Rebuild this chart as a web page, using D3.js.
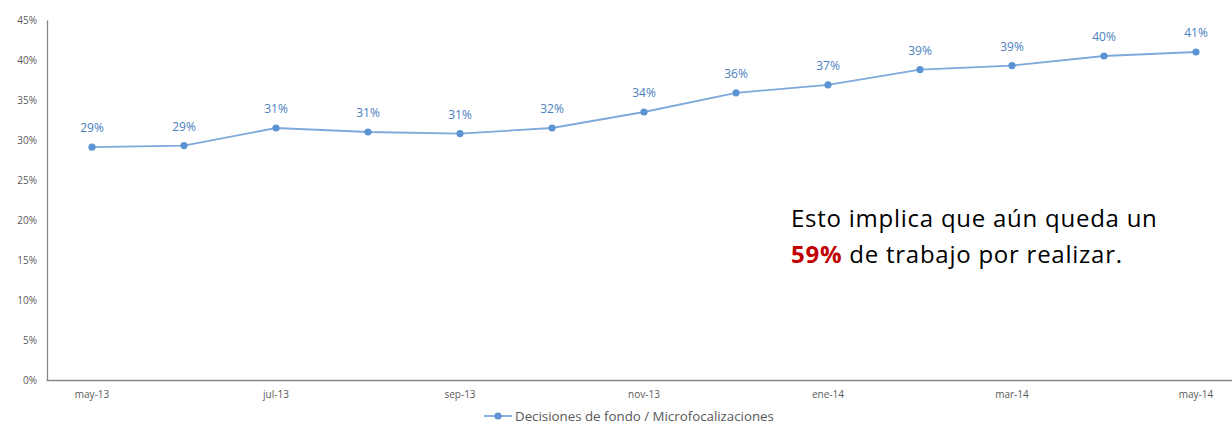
<!DOCTYPE html>
<html><head><meta charset="utf-8">
<script src="https://cdn.jsdelivr.net/npm/d3@7"></script>
<style>body{margin:0;background:#fff}svg{display:block}</style>
</head><body><svg id="c" width="1232" height="424"></svg>
<script>
const months = ["may-13","jun-13","jul-13","ago-13","sep-13","oct-13","nov-13","dic-13","ene-14","feb-14","mar-14","abr-14","may-14"];
const values = [0.291,0.293,0.315,0.310,0.308,0.315,0.335,0.359,0.369,0.388,0.393,0.405,0.410];
const valueLabels = ["29%","29%","31%","31%","31%","32%","34%","36%","37%","39%","39%","40%","41%"];
const xTickLabels = ["may-13","jul-13","sep-13","nov-13","ene-14","mar-14","may-14"];
const yTicks = [0,0.05,0.10,0.15,0.20,0.25,0.30,0.35,0.40,0.45];
const seriesName = "Decisiones de fondo / Microfocalizaciones";

const svg = d3.select("#c");
const mLeft = 47, mTop = 20, mBottom = 380;
const x = d3.scaleBand().domain(months).range([mLeft-1, mLeft-1+months.length*92]);
const y = d3.scaleLinear().domain([0,0.45]).range([mBottom, mTop]);
const cx = d => x(d) + x.bandwidth()/2;

// y axis
const ya = svg.append("g").attr("transform",`translate(${mLeft},0)`)
  .call(d3.axisLeft(y).tickValues(yTicks).tickFormat(d3.format(".0%")).tickSize(0).tickPadding(10));
ya.select(".domain").attr("stroke","#868686").attr("stroke-width",1.3);
ya.selectAll("text").attr("font-family","'Open Sans', sans-serif").attr("font-size",10).attr("fill","#595959");

// x axis
const xa = svg.append("g").attr("transform",`translate(0,${mBottom})`)
  .call(d3.axisBottom(x).tickValues(xTickLabels).tickSize(0).tickPadding(11));
xa.select(".domain").attr("stroke","#868686").attr("stroke-width",1.3);
xa.selectAll("text").attr("font-family","'Open Sans', sans-serif").attr("font-size",10).attr("fill","#595959");

const data = months.map((m,i)=>({m, v: values[i], l: valueLabels[i]}));
svg.append("path").datum(data)
  .attr("fill","none").attr("stroke","#7ea9db").attr("stroke-width",1.8)
  .attr("d", d3.line().x(d=>cx(d.m)).y(d=>y(d.v)));
svg.selectAll("circle.pt").data(data).join("circle").attr("class","pt")
  .attr("cx",d=>cx(d.m)).attr("cy",d=>y(d.v)).attr("r",3.6).attr("fill","#5b93d3");
svg.selectAll("text.lbl").data(data).join("text").attr("class","lbl")
  .attr("x",d=>cx(d.m)).attr("y",d=>y(d.v)-15).attr("text-anchor","middle")
  .attr("font-family","'Open Sans', sans-serif").attr("font-size",12).attr("fill","#4a80c0")
  .text(d=>d.l);

// legend
const lg = svg.append("g").attr("transform","translate(484,416)");
lg.append("line").attr("x1",0).attr("x2",28).attr("y1",0).attr("y2",0).attr("stroke","#7ea9db").attr("stroke-width",1.8);
lg.append("circle").attr("cx",14).attr("cy",0).attr("r",3.6).attr("fill","#5b93d3");
lg.append("text").attr("x",31).attr("y",4.5).attr("font-family","'Open Sans', sans-serif").attr("font-size",13.3).attr("fill","#595959").text(seriesName);

// annotation
const an = svg.append("text").attr("font-family","'Open Sans', sans-serif").attr("font-size",24).attr("letter-spacing",0.75).attr("fill","#000");
an.append("tspan").attr("x",791).attr("y",227).text("Esto implica que aún queda un");
const l2 = svg.append("text").attr("font-family","'Open Sans', sans-serif").attr("font-size",24).attr("letter-spacing",0.75).attr("fill","#000").attr("x",791).attr("y",263);
l2.append("tspan").attr("font-weight","bold").attr("fill","#c00000").text("59%");
l2.append("tspan").text(" de trabajo por realizar.");
</script></body></html>
